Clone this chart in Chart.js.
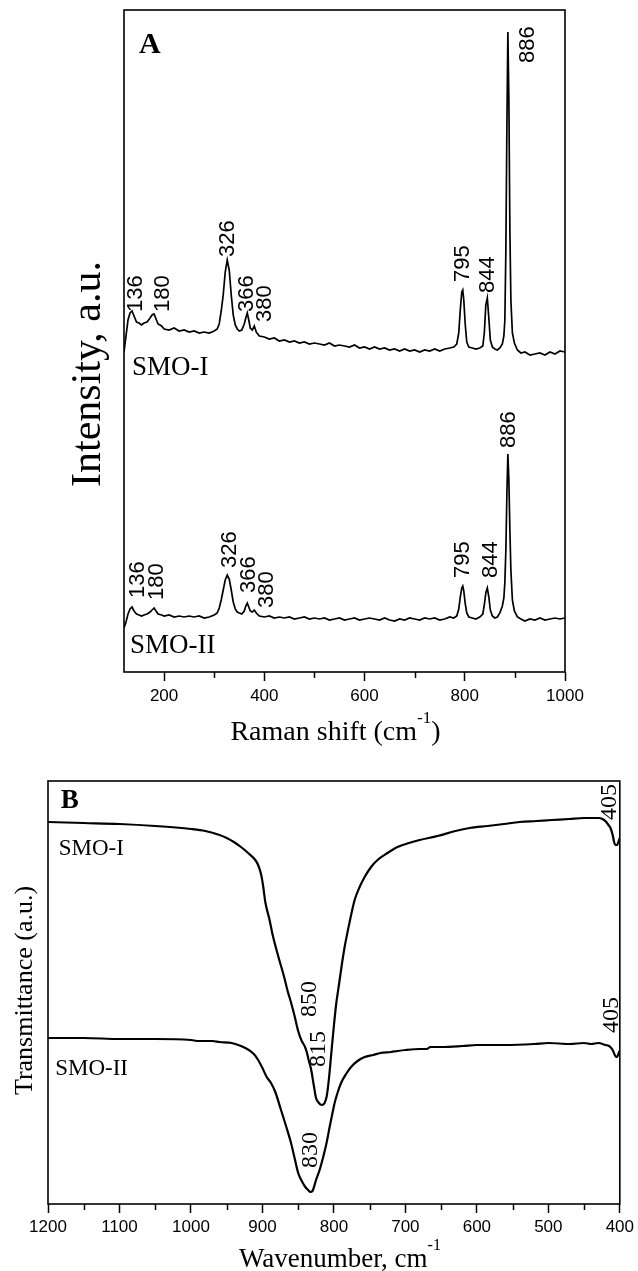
<!DOCTYPE html>
<html>
<head>
<meta charset="utf-8">
<script src="https://cdn.jsdelivr.net/npm/chart.js@4.4.1/dist/chart.umd.min.js"></script>
<style>
  html, body { margin: 0; padding: 0; background: #fff; }
  #wrap { position: relative; width: 638px; height: 1271px; }
  canvas { position: absolute; left: 0; }
  #ramanCanvas { top: 0; }
  #irCanvas { top: 780px; }
</style>
</head>
<body>
<div id="wrap">
  <canvas id="ramanCanvas" width="638" height="780"></canvas>
  <canvas id="irCanvas" width="638" height="491"></canvas>
</div>
<script>
// ---- Panel A: Raman spectra (intensity, arbitrary units) ----
const ramanShift = [120,124,128,132,136,140,145,150,155,160,166,172,176,180,184,188,195,200,210,220,
  230,240,250,260,270,280,290,300,306,310,314,318,322,326,330,334,338,342,346,350,
  355,360,363,366,369,372,376,380,384,390,400,410,420,430,440,450,460,470,480,490,
  500,510,520,530,540,550,560,570,580,590,600,610,620,630,640,650,660,670,680,690,
  700,710,720,730,740,750,760,770,778,784,788,791,794,796,798,801,804,808,815,822,
  830,836,839,842,845,848,851,855,860,865,870,875,878,880,882,884,886,888,890,892,
  895,899,905,912,920,930,940,950,960,970,980,990,1000];
const ramanSMO1 = [320,336,352,359,361,356,350,349,347,349,350,354,357,358,353,348,346,343,342,344,
  341,342,340,341,339,340,339,341,343,348,361,377,400,412,402,377,357,347,343,341,
  342,348,354,359,352,344,342,346,340,336,335,333,334,331,332,330,331,329,330,328,
  329,328,327,329,326,327,326,325,327,324,325,323,325,323,324,322,323,321,323,321,
  322,320,322,321,323,321,323,324,325,328,339,362,380,382,372,347,330,325,324,323,
  324,326,339,367,374,354,332,325,323,322,324,328,336,352,422,542,640,572,442,372,
  339,329,322,319,320,317,318,319,317,320,318,321,320];
const ramanSMO2 = [44,50,58,63,65,61,58,57,56,57,58,60,62,64,61,58,57,56,57,55,
  56,55,56,55,56,54,55,57,59,64,72,82,92,97,93,82,70,63,60,59,
  58,61,66,69,65,61,60,62,59,56,55,56,54,55,54,55,53,54,55,53,
  54,53,54,52,53,54,52,53,54,52,53,54,53,52,54,52,51,53,52,54,
  53,52,54,53,54,52,53,55,54,56,63,75,84,86,81,68,59,55,54,53,
  55,58,67,79,84,75,62,56,54,55,59,66,74,90,122,177,218,192,142,102,
  72,61,55,53,51,53,52,54,52,53,54,53,54];
const ramanTicks = [200, 400, 600, 800, 1000];
const ramanMinorTicks = [300, 500, 700, 900];
const ramanPeakNames = ['136', '180', '326', '366', '380', '795', '844', '886'];

// ---- Panel B: IR spectra (transmittance, arbitrary units) ----
const irWaveI = [1200,1150,1100,1050,1000,980,960,950,940,930,920,910,906,902,899,896,890,886,878,870,
  864,861,855,850,845,841,838,835,832,828,825,821,817,813,810,807,804,801,797,793,
  789,785,778,771,764,757,748,739,725,711,695,680,655,630,610,585,562,540,517,495,
  471,450,429,422,419,416,413,410,408,406,404,402,400];
const irTransI = [382,381,380,378,375,373,369,366,362,357,351,344,339,330,318,302,284,270,248,228,
  211,204,188,173,163,158,152,143,135,118,106,101,99,101,108,125,148,171,199,219,
  239,257,282,304,317,327,337,344,351,357,361,364,368,373,376,378,380,382,383,384,
  385,386,386,384,382,379,376,369,362,359,359,362,366];
const irWaveII = [1200,1150,1100,1050,1000,989,970,960,943,930,919,912,906,900,894,888,882,874,867,860,
  855,850,845,840,836,833,830,825,820,815,810,806,802,799,795,790,783,776,767,757,
  745,735,720,711,700,680,670,665,650,620,600,560,520,500,470,450,440,430,420,415,
  410,407,405,403,401,400];
const irTransII = [166,166,165,165,164,163,163,162,161,158,154,150,144,136,127,121,112,94,78,61,
  46,31,23,17,14,12,13,24,34,47,62,77,91,101,111,121,130,137,143,147,
  149,151,152,153,154,155,155,157,157,158,159,159,160,161,160,161,160,161,159,158,
  154,149,147,148,152,153];
const irTicks = [1200, 1100, 1000, 900, 800, 700, 600, 500, 400];
const irMinorTicks = [1150, 1050, 950, 850, 750, 650, 550, 450];

const SERIF = '"Liberation Serif", "Times New Roman", serif';
const SANS = '"Liberation Sans", Arial, sans-serif';

const pts = (xs, ys) => xs.map((x, i) => ({ x, y: ys[i] }));

// label anchors (data coords of the foot of each rotated label)
const ramanLabelsI = [[144,360],[198,360],[328,415],[366,360],[402,350],[796,390],[846,379],[926,609]];
const ramanLabelsII = [[147,74],[186,72],[332,104],[370,79],[406,64],[796,94],[852,94],[888,224]];

const framePlugin = {
  id: 'frame',
  afterDraw(chart) {
    const { ctx, chartArea: a } = chart;
    ctx.save();
    ctx.strokeStyle = '#000';
    ctx.lineWidth = 1.6;
    ctx.strokeRect(a.left, a.top, a.right - a.left, a.bottom - a.top);
    ctx.restore();
  }
};

function minorTicks(values) {
  return {
    id: 'minorTicks',
    afterDraw(chart) {
      const { ctx, chartArea: a, scales: { x } } = chart;
      ctx.save();
      ctx.strokeStyle = '#000';
      ctx.lineWidth = 1.5;
      values.forEach(v => {
        const px = Math.round(x.getPixelForValue(v)) + 0.5;
        ctx.beginPath();
        ctx.moveTo(px, a.bottom);
        ctx.lineTo(px, a.bottom + 6);
        ctx.stroke();
      });
      ctx.restore();
    }
  };
}

function rotatedText(ctx, text, px, py, font, align) {
  ctx.save();
  ctx.font = font;
  ctx.translate(px, py);
  ctx.rotate(-Math.PI / 2);
  ctx.textAlign = align || 'left';
  ctx.textBaseline = 'middle';
  ctx.fillText(text, 0, 0);
  ctx.restore();
}

// title with a "-1" superscript, centred on cx
function supTitle(ctx, main, cx, baseY, size, supSize, tail) {
  ctx.save();
  ctx.textBaseline = 'alphabetic';
  ctx.textAlign = 'left';
  ctx.font = size + 'px ' + SERIF;
  const w1 = ctx.measureText(main).width;
  const w3 = tail ? ctx.measureText(tail).width : 0;
  ctx.font = supSize + 'px ' + SERIF;
  const w2 = ctx.measureText('-1').width;
  let x0 = cx - (w1 + w2 + w3) / 2;
  ctx.font = size + 'px ' + SERIF;
  ctx.fillText(main, x0, baseY);
  ctx.font = supSize + 'px ' + SERIF;
  ctx.fillText('-1', x0 + w1, baseY - size * 0.62);
  if (tail) {
    ctx.font = size + 'px ' + SERIF;
    ctx.fillText(tail, x0 + w1 + w2, baseY);
  }
  ctx.restore();
}

const ramanText = {
  id: 'ramanText',
  afterDatasetsDraw(chart) {
    const { ctx, chartArea: a, scales: { x, y } } = chart;
    ctx.save();
    ctx.fillStyle = '#000';
    const pf = '22px ' + SANS;
    ramanPeakNames.forEach((t, i) => {
      rotatedText(ctx, t, x.getPixelForValue(ramanLabelsI[i][0]), y.getPixelForValue(ramanLabelsI[i][1]), pf);
      rotatedText(ctx, t, x.getPixelForValue(ramanLabelsII[i][0]), y.getPixelForValue(ramanLabelsII[i][1]), pf);
    });
    ctx.textAlign = 'left';
    ctx.textBaseline = 'alphabetic';
    ctx.font = 'bold 30px ' + SERIF;
    ctx.fillText('A', x.getPixelForValue(150), y.getPixelForValue(619));
    ctx.font = '27px ' + SERIF;
    ctx.fillText('SMO-I', x.getPixelForValue(136), y.getPixelForValue(297));
    ctx.fillText('SMO-II', x.getPixelForValue(132), y.getPixelForValue(19));
    // axis titles
    supTitle(ctx, 'Raman shift (cm', (a.left + a.right) / 2 - 9, a.bottom + 68, 28, 17, ')');
    ctx.save();
    ctx.translate(89, (a.top + a.bottom) / 2 + 33);
    ctx.rotate(-Math.PI / 2);
    ctx.font = '42px ' + SERIF;
    ctx.textAlign = 'center';
    ctx.textBaseline = 'middle';
    ctx.fillText('Intensity, a.u.', 0, 0);
    ctx.restore();
    ctx.restore();
  }
};

const irText = {
  id: 'irText',
  afterDatasetsDraw(chart) {
    const { ctx, chartArea: a, scales: { x, y } } = chart;
    ctx.save();
    ctx.fillStyle = '#000';
    const pf = '24px ' + SERIF;
    rotatedText(ctx, '405', x.getPixelForValue(414), y.getPixelForValue(384), pf);
    rotatedText(ctx, '850', x.getPixelForValue(834), y.getPixelForValue(187), pf);
    rotatedText(ctx, '815', x.getPixelForValue(821), y.getPixelForValue(137), pf);
    rotatedText(ctx, '405', x.getPixelForValue(411), y.getPixelForValue(171), pf);
    rotatedText(ctx, '830', x.getPixelForValue(833), y.getPixelForValue(36), pf);
    ctx.textAlign = 'left';
    ctx.textBaseline = 'alphabetic';
    ctx.font = 'bold 27px ' + SERIF;
    ctx.fillText('B', x.getPixelForValue(1182), y.getPixelForValue(396));
    ctx.font = '23px ' + SERIF;
    ctx.fillText('SMO-I', x.getPixelForValue(1185), y.getPixelForValue(349));
    ctx.fillText('SMO-II', x.getPixelForValue(1190), y.getPixelForValue(129));
    supTitle(ctx, 'Wavenumber, cm', (a.left + a.right) / 2 + 6, a.bottom + 63, 27, 16, '');
    rotatedText(ctx, 'Transmittance (a.u.)', 25, (a.top + a.bottom) / 2 - 2, '26px ' + SERIF, 'center');
    ctx.restore();
  }
};

const lineStyle = { borderColor: '#000', pointRadius: 0, fill: false };
const tickFont = { family: SANS, size: 17 };
const plainLabel = v => String(v);

new Chart(document.getElementById('ramanCanvas'), {
  type: 'line',
  data: {
    datasets: [
      { label: 'SMO-I', data: pts(ramanShift, ramanSMO1), borderWidth: 1.7, tension: 0, ...lineStyle },
      { label: 'SMO-II', data: pts(ramanShift, ramanSMO2), borderWidth: 1.7, tension: 0, ...lineStyle }
    ]
  },
  options: {
    responsive: false,
    animation: false,
    layout: { padding: { top: 10, right: 73, left: 0, bottom: 0 } },
    plugins: { legend: { display: false }, tooltip: { enabled: false } },
    scales: {
      x: {
        type: 'linear', min: 120, max: 1000,
        afterBuildTicks: s => { s.ticks = ramanTicks.map(v => ({ value: v })); },
        ticks: { font: tickFont, color: '#000', padding: 5, maxRotation: 0, autoSkip: false, callback: plainLabel },
        grid: { drawOnChartArea: false, tickLength: 9, tickColor: '#000', tickWidth: 1.5 },
        border: { display: false },
        afterFit: s => { s.height = 108; }
      },
      y: {
        min: 0, max: 662,
        ticks: { display: false },
        grid: { display: false },
        border: { display: false },
        afterFit: s => { s.width = 124; }
      }
    }
  },
  plugins: [framePlugin, minorTicks(ramanMinorTicks), ramanText]
});

new Chart(document.getElementById('irCanvas'), {
  type: 'line',
  data: {
    datasets: [
      { label: 'SMO-I', data: pts(irWaveI, irTransI), borderWidth: 2.2, cubicInterpolationMode: 'monotone', ...lineStyle },
      { label: 'SMO-II', data: pts(irWaveII, irTransII), borderWidth: 2.2, cubicInterpolationMode: 'monotone', ...lineStyle }
    ]
  },
  options: {
    responsive: false,
    animation: false,
    layout: { padding: { top: 1, right: 14, left: 0, bottom: 0 } },
    plugins: { legend: { display: false }, tooltip: { enabled: false } },
    scales: {
      x: {
        type: 'linear', min: 400, max: 1200, reverse: true,
        afterBuildTicks: s => { s.ticks = irTicks.map(v => ({ value: v })); },
        ticks: { font: tickFont, color: '#000', padding: 4, maxRotation: 0, autoSkip: false, callback: plainLabel },
        grid: { drawOnChartArea: false, tickLength: 9, tickColor: '#000', tickWidth: 1.5 },
        border: { display: false },
        afterFit: s => { s.height = 67; }
      },
      y: {
        min: 0, max: 423,
        ticks: { display: false },
        grid: { display: false },
        border: { display: false },
        afterFit: s => { s.width = 48; }
      }
    }
  },
  plugins: [framePlugin, minorTicks(irMinorTicks), irText]
});
</script>
</body>
</html>
